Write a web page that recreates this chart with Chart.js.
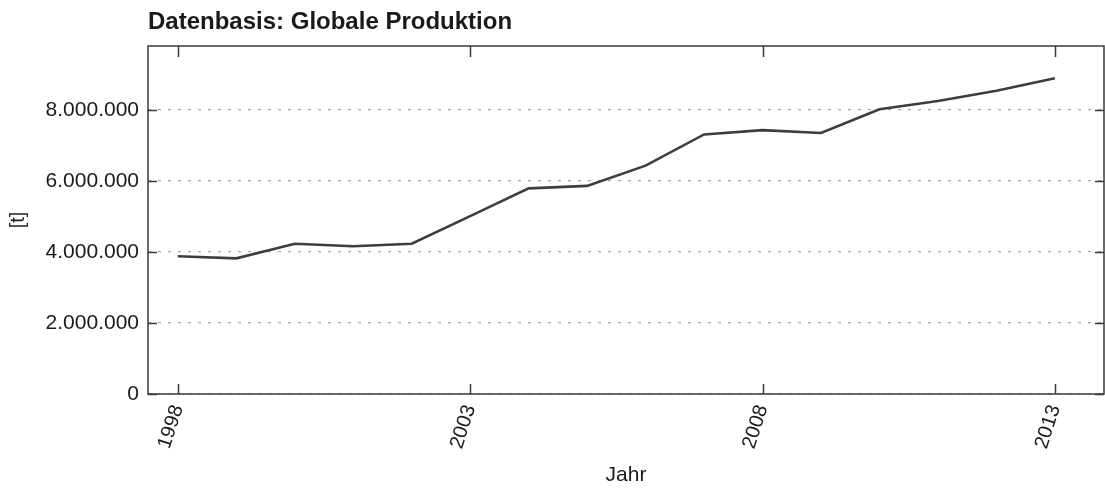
<!DOCTYPE html>
<html lang="de">
<head>
  <meta charset="UTF-8" />
  <title>Datenbasis: Globale Produktion</title>
  <style>
    body {
      margin: 0;
      background: white;
    }
    #wrap {
      width: 1105px;
      height: 488px;
    }
  </style>
  <script src="https://cdn.jsdelivr.net/npm/chart.js"></script>
</head>
<body>
  <div id="wrap">
    <canvas id="prodChart" width="1105" height="488"></canvas>
  </div>

  <script>
    // values
    const years = [1998, 1999, 2000, 2001, 2002, 2003, 2004, 2005,
                   2006, 2007, 2008, 2009, 2010, 2011, 2012, 2013];
    const production = [3880000, 3820000, 4230000, 4160000, 4230000, 5010000, 5790000, 5860000,
                        6430000, 7310000, 7430000, 7350000, 8020000, 8250000, 8540000, 8890000];
    const xTicks = [1998, 2003, 2008, 2013];
    const yTicks = [0, 2000000, 4000000, 6000000, 8000000];

    const fontName = "'Liberation Sans', Arial, sans-serif";

    function germanNumber(v) {
      return String(Math.round(v)).replace(/\B(?=(\d{3})+(?!\d))/g, ".");
    }

    // frame round the plot and the short inward tick marks
    const frameTicks = {
      id: "frameTicks",
      afterDatasetsDraw(chart) {
        const { ctx, chartArea: a, scales: { x, y } } = chart;
        ctx.save();
        ctx.strokeStyle = "#3a3a3a";
        ctx.lineWidth = 1.5;
        ctx.strokeRect(a.left, a.top, a.right - a.left, a.bottom - a.top);
        ctx.beginPath();
        x.ticks.forEach(t => {
          const px = Math.round(x.getPixelForValue(t.value)) + 0.5;
          ctx.moveTo(px, a.bottom); ctx.lineTo(px, a.bottom - 10);
          ctx.moveTo(px, a.top); ctx.lineTo(px, a.top + 11);
        });
        y.ticks.forEach(t => {
          const py = Math.round(y.getPixelForValue(t.value)) + 0.5;
          ctx.moveTo(a.left, py); ctx.lineTo(a.left + 9, py);
          ctx.moveTo(a.right, py); ctx.lineTo(a.right - 9, py);
        });
        ctx.stroke();
        ctx.restore();
      }
    };

    const ctx = document.getElementById("prodChart").getContext("2d");
    new Chart(ctx, {
      type: "line",
      data: {
        datasets: [{
          label: "Globale Produktion",
          data: years.map((yr, i) => ({ x: yr, y: production[i] })),
          borderColor: "#3d3d3d",
          borderWidth: 2.6,
          pointRadius: 0,
          tension: 0,
          fill: false
        }]
      },
      options: {
        responsive: false,
        animation: false,
        layout: { padding: { left: 0, right: 1, top: 0, bottom: 0 } },
        plugins: {
          legend: { display: false },
          tooltip: { enabled: false },
          title: {
            display: true,
            text: "Datenbasis: Globale Produktion",
            align: "start",
            fullSize: false,
            color: "#1a1a1a",
            font: { family: fontName, size: 24, weight: "bold" },
            padding: { top: 8, bottom: 9.2 }
          }
        },
        scales: {
          x: {
            type: "linear",
            min: 1997.49,
            max: 2013.84,
            afterBuildTicks: scale => { scale.ticks = xTicks.map(v => ({ value: v })); },
            afterFit: scale => { scale.height = 94; },
            grid: { display: false, drawTicks: false },
            border: { display: false },
            ticks: {
              color: "#1a1a1a",
              font: { family: fontName, size: 20 },
              minRotation: 72,
              maxRotation: 72,
              padding: 8,
              callback: v => String(v)
            },
            title: {
              display: true,
              text: "Jahr",
              color: "#1a1a1a",
              font: { family: fontName, size: 21 },
              padding: { top: 0, bottom: 0 }
            }
          },
          y: {
            min: 0,
            max: 9800000,
            afterBuildTicks: scale => { scale.ticks = yTicks.map(v => ({ value: v })); },
            afterFit: scale => { scale.width = 148; },
            grid: { color: "#a8a8a8", lineWidth: 1.2, drawTicks: false },
            border: { display: false, dash: [3, 7] },
            ticks: {
              color: "#1a1a1a",
              font: { family: fontName, size: 21 },
              padding: 9,
              callback: v => germanNumber(v)
            },
            title: {
              display: true,
              text: "[t]",
              color: "#1a1a1a",
              font: { family: fontName, size: 20 },
              padding: { top: 6, bottom: 0 }
            }
          }
        }
      },
      plugins: [frameTicks]
    });
  </script>
</body>
</html>
